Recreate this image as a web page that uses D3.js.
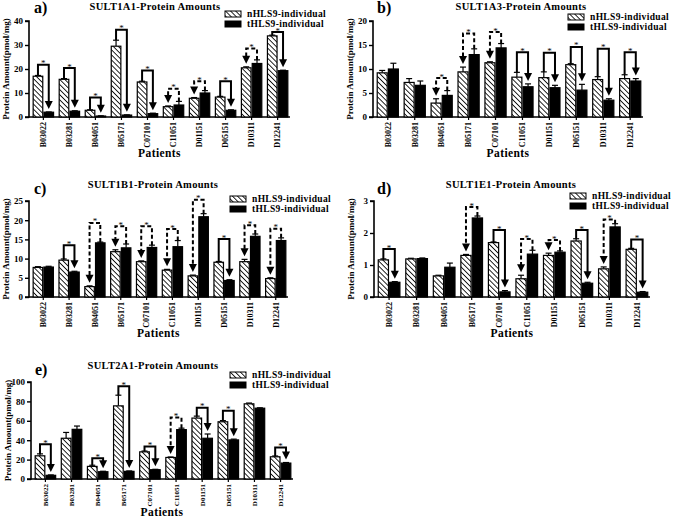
<!DOCTYPE html>
<html><head><meta charset="utf-8">
<script src="https://cdn.jsdelivr.net/npm/d3@7"></script>
<style>
html,body{margin:0;padding:0;background:#fff;}
svg text{font-family:"Liberation Serif","Times New Roman",serif;font-weight:bold;fill:#000;}
</style></head>
<body>
<svg id="chart" width="675" height="519"></svg>
<script>
// ---------- data ----------
const categories = ["B03022","B03281","B04051","B05171","C07101","C11051","D01151","D05151","D10311","D12241"];
const seriesNames = ["nHLS9-individual","tHLS9-individual"];
const xTitle = "Patients";
const yTitle = "Protein Amount(pmol/mg)";

// a) SULT1A1
const a_n    = [17.0, 15.7, 2.8, 29.5, 14.6, 4.3, 7.8, 8.3, 20.5, 33.8];
const a_nErr = [0.3, 0.3, 0.2, 2.5, 0.3, 0.3, 0.3, 0.3, 0.4, 0.3];
const a_t    = [2.0, 2.4, 0.4, 0.8, 1.4, 5.0, 10.0, 2.8, 22.3, 19.3];
const a_tErr = [0.1, 0.2, 0.1, 0.1, 0.2, 1.5, 1.0, 0.2, 1.5, 0.2];
const a_sig  = ["s","s","s","s","s","d","d","s","d","s"];
const a_lvl  = [21.8, 20.4, 8.1, 36.4, 19.4, 11.8, 14.9, 14.9, 28.5, 35.4];
const a_ticks = [0, 10, 20, 30, 40];

// b) SULT1A3
const b_n    = [9.2, 7.2, 2.9, 9.4, 11.3, 8.3, 8.2, 10.9, 7.8, 8.0];
const b_nErr = [0.5, 0.8, 0.9, 1.0, 0.2, 1.0, 1.2, 0.2, 0.6, 0.8];
const b_t    = [10.0, 6.6, 4.5, 13.0, 14.4, 6.3, 6.1, 5.6, 3.5, 7.5];
const b_tErr = [1.2, 0.9, 1.0, 1.2, 0.9, 0.6, 0.5, 1.2, 0.3, 0.5];
const b_sig  = ["","","d","d","d","s","s","s","s","s"];
const b_lvl  = [null, null, 8.1, 17.4, 17.7, 13.5, 13.4, 14.6, 14.2, 13.5];
const b_ticks = [0, 5, 10, 15, 20];

// c) SULT1B1
const c_n    = [7.7, 9.6, 2.7, 11.8, 9.2, 7.0, 5.5, 9.05, 9.2, 4.8];
const c_nErr = [0.2, 0.3, 0.2, 0.5, 0.2, 0.2, 0.2, 0.2, 0.6, 0.2];
const c_t    = [7.8, 6.5, 14.1, 12.8, 12.9, 13.1, 20.9, 4.3, 15.8, 14.7];
const c_tErr = [0.2, 0.2, 0.2, 1.0, 0.6, 1.6, 0.8, 0.2, 0.6, 0.7];
const c_sig  = ["","s","d","d","d","d","d","s","d","d"];
const c_lvl  = [null, 13.5, 19.3, 18.4, 18.4, 17.7, 25.3, 15.1, 18.7, 17.8];
const c_ticks = [0, 5, 10, 15, 20, 25];

// d) SULT1E1
const d_n    = [1.16, 1.19, 0.66, 1.30, 1.70, 0.57, 1.30, 1.75, 0.88, 1.49];
const d_nErr = [0.03, 0.02, 0.02, 0.03, 0.02, 0.11, 0.07, 0.07, 0.06, 0.03];
const d_t    = [0.46, 1.20, 0.93, 2.47, 0.16, 1.34, 1.40, 0.43, 2.19, 0.15];
const d_tErr = [0.02, 0.02, 0.13, 0.06, 0.04, 0.12, 0.04, 0.03, 0.10, 0.02];
const d_sig  = ["s","","","d","s","d","d","s","d","s"];
const d_lvl  = [1.5, null, null, 2.81, 2.09, 1.81, 1.78, 2.09, 2.42, 1.80];
const d_ticks = [0, 1, 2, 3];

// e) SULT2A1
const e_n    = [23.9, 42.0, 13.0, 75.4, 28.0, 22.2, 62.8, 59.0, 77.5, 22.9];
const e_nErr = [2.0, 6.0, 1.2, 11.0, 0.8, 0.5, 2.0, 1.2, 0.8, 0.8];
const e_t    = [3.8, 51.2, 7.5, 7.9, 9.6, 50.9, 42.0, 40.3, 73.0, 16.4];
const e_tErr = [0.4, 3.4, 0.5, 0.4, 0.4, 1.5, 4.4, 0.8, 0.4, 0.6];
const e_sig  = ["s","","s","s","s","d","s","s","","s"];
const e_lvl  = [35.8, null, 21.5, 95.6, 33.4, 63.5, 73.4, 70.3, null, 32.4];
const e_ticks = [0, 20, 40, 60, 80, 100];

// ---------- layout ----------
const panels = [
  {label:"a)", title:"SULT1A1-Protein Amounts", n:a_n, nErr:a_nErr, t:a_t, tErr:a_tErr, sig:a_sig, lvl:a_lvl, ticks:a_ticks,
   L:29, R:290, T:21, B:117, labX:34, labY:13, titleX:155, titleY:10, legX:225, legY:11, patY:157, catFs:8},
  {label:"b)", title:"SULT1A3-Protein Amounts", n:b_n, nErr:b_nErr, t:b_t, tErr:b_tErr, sig:b_sig, lvl:b_lvl, ticks:b_ticks,
   L:373, R:643, T:21, B:117, labX:377, labY:13, titleX:521, titleY:10, legX:568, legY:14, patY:157, catFs:8},
  {label:"c)", title:"SULT1B1-Protein Amounts", n:c_n, nErr:c_nErr, t:c_t, tErr:c_tErr, sig:c_sig, lvl:c_lvl, ticks:c_ticks,
   L:29, R:288, T:201, B:297, labX:34, labY:194, titleX:153, titleY:188, legX:230, legY:196, patY:337, catFs:8},
  {label:"d)", title:"SULT1E1-Protein Amounts", n:d_n, nErr:d_nErr, t:d_t, tErr:d_tErr, sig:d_sig, lvl:d_lvl, ticks:d_ticks,
   L:374, R:650, T:201, B:297, labX:377, labY:194, titleX:511, titleY:188, legX:570, legY:193, patY:337, catFs:8},
  {label:"e)", title:"SULT2A1-Protein Amounts", n:e_n, nErr:e_nErr, t:e_t, tErr:e_tErr, sig:e_sig, lvl:e_lvl, ticks:e_ticks,
   L:31, R:293, T:382, B:479, labX:35, labY:375, titleX:153, titleY:369, legX:230, legY:372, patY:516, catFs:7}
];

const svg = d3.select("#chart");
const defs = svg.append("defs");
defs.append("pattern").attr("id","hatch").attr("patternUnits","userSpaceOnUse")
  .attr("width",3.6).attr("height",3.6).attr("patternTransform","rotate(-45)")
  .call(p=>{
    p.append("rect").attr("width",3.6).attr("height",3.6).attr("fill","#fff");
    p.append("line").attr("x1",0).attr("y1",0).attr("x2",0).attr("y2",3.6)
      .attr("stroke","#000").attr("stroke-width",1.7);
  });

panels.forEach(P => {
  const g = svg.append("g");
  const maxV = P.ticks[P.ticks.length-1];
  const y = d3.scaleLinear().domain([0, maxV]).range([P.B, P.T]);
  const x = d3.scaleBand().domain(categories).range([P.L+2, P.R]).paddingInner(0.17).paddingOuter(0.06);
  const xs = d3.scaleBand().domain(["n","t"]).range([0, x.bandwidth()]).padding(0);

  // y axis
  const ya = g.append("g").attr("transform",`translate(${P.L},0)`)
    .call(d3.axisLeft(y).tickValues(P.ticks).tickSize(4).tickPadding(2).tickFormat(d3.format("d")));
  ya.select(".domain").attr("stroke-width",1.6).attr("d",`M-4,${P.T}H0V${P.B}H-4`);
  ya.selectAll(".tick line").attr("stroke-width",1.4);
  ya.selectAll(".tick text").style("font-size","9px").style("font-family",'"Liberation Serif",serif').style("font-weight","bold");

  // x axis
  const xa = g.append("g").attr("transform",`translate(0,${P.B})`)
    .call(d3.axisBottom(x).tickSize(3).tickSizeOuter(0));
  xa.select(".domain").attr("stroke-width",1.6).attr("d",`M${P.L},0H${P.R}`);
  xa.selectAll(".tick line").attr("stroke-width",1.2);
  xa.selectAll(".tick text")
    .style("font-size",P.catFs+"px").style("font-family",'"Liberation Serif",serif').style("font-weight","bold")
    .attr("transform","rotate(-90)").attr("text-anchor","end")
    .attr("x",-5).attr("y",0).attr("dy","0.35em");

  // titles
  g.append("text").attr("x",(P.L+P.R)/2).attr("y",P.patY).attr("text-anchor","middle")
    .style("font-size","11.5px").style("letter-spacing","0.4px").text(xTitle);
  g.append("text").attr("transform",`translate(${P.L-20},${(P.T+P.B)/2}) rotate(-90)`)
    .attr("text-anchor","middle").style("font-size","9px").text(yTitle);
  g.append("text").attr("x",P.titleX).attr("y",P.titleY).attr("text-anchor","middle")
    .style("font-size","10.5px").style("letter-spacing","0.3px").text(P.title);
  g.append("text").attr("x",P.labX).attr("y",P.labY)
    .style("font-size","16px").text(P.label);

  // legend
  seriesNames.forEach((s,i)=>{
    g.append("rect").attr("x",P.legX).attr("y",P.legY + i*10).attr("width",16).attr("height",6)
      .attr("fill", i===0 ? "url(#hatch)" : "#000").attr("stroke","#000").attr("stroke-width",1);
    g.append("text").attr("x",P.legX+22).attr("y",P.legY + i*10 + 6)
      .style("font-size","9.5px").style("letter-spacing","0.35px").text(s);
  });

  // bars
  categories.forEach((c,i)=>{
    const xn = x(c) + xs("n"), xt = x(c) + xs("t"), bw = xs.bandwidth();
    [[xn, P.n[i], P.nErr[i]],[xt, P.t[i], P.tErr[i]]].forEach(([bx,v,e])=>{
      const cx = bx + bw/2;
      g.append("line").attr("x1",cx).attr("x2",cx).attr("y1",y(v)).attr("y2",y(v+e))
        .attr("stroke","#000").attr("stroke-width",1.2);
      g.append("line").attr("x1",cx-3).attr("x2",cx+3).attr("y1",y(v+e)).attr("y2",y(v+e))
        .attr("stroke","#000").attr("stroke-width",1.2);
    });
    g.append("rect").attr("x",xn+0.6).attr("y",y(P.n[i])).attr("width",bw-1.2).attr("height",P.B-y(P.n[i]))
      .attr("fill","url(#hatch)").attr("stroke","#000").attr("stroke-width",1.2);
    g.append("rect").attr("x",xt+0.6).attr("y",y(P.t[i])).attr("width",bw-1.2).attr("height",P.B-y(P.t[i]))
      .attr("fill","#000").attr("stroke","#000").attr("stroke-width",1.2);

    if (P.sig[i]) {
      const dashed = P.sig[i] === "d";
      const hiX = (dashed ? xt : xn) + bw/2;
      const loX = (dashed ? xn : xt) + bw/2;
      const hiTop = dashed ? y(P.t[i]+P.tErr[i]) : y(P.n[i]+P.nErr[i]);
      const loTop = dashed ? y(P.n[i]+P.nErr[i]) : y(P.t[i]+P.tErr[i]);
      const ly = y(P.lvl[i]);
      const ah = 8, gap = 3;
      const tip = loTop - gap;
      g.append("path").attr("d",`M${hiX},${hiTop}V${ly}H${loX}V${tip-ah+1}`)
        .attr("fill","none").attr("stroke","#000").attr("stroke-width",2)
        .attr("stroke-dasharray", dashed ? "4,2.5" : null);
      g.append("path").attr("d",`M${loX-4},${tip-ah}L${loX+4},${tip-ah}L${loX},${tip}Z`).attr("fill","#000");
      g.append("text").attr("x",(hiX+loX)/2).attr("y",ly+1.5).attr("text-anchor","middle")
        .style("font-size","9px").style("font-weight","normal").text("*");
    }
  });
});
</script>
</body></html>
